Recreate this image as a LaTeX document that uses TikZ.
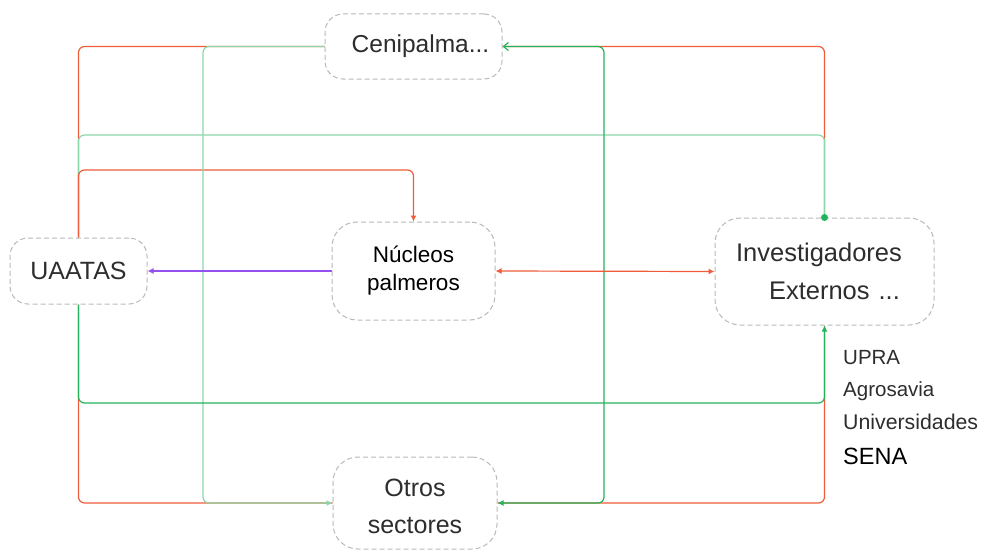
\documentclass[tikz,border=0pt]{standalone}
\usepackage{fontspec}
\setmainfont{Liberation Sans}
\usetikzlibrary{arrows.meta,backgrounds}
\definecolor{redl}{RGB}{240,92,58}
\definecolor{grn}{RGB}{34,180,90}
\definecolor{lgrn}{RGB}{140,215,170}
\definecolor{purp}{RGB}{150,80,240}
\definecolor{bord}{RGB}{185,185,185}
\definecolor{txt}{RGB}{45,45,45}
\begin{document}
\begin{tikzpicture}[x=1pt,y=-1pt,
  box/.style={draw=bord, dash pattern=on 5pt off 3pt, line width=1pt, rounded corners=18pt, fill=white, text=txt, align=center, inner sep=0pt},
  conn/.style={line width=1.2pt, rounded corners=6pt},
  tip/.style={-{Latex[length=6pt,width=6pt]}},
  lbl/.style={anchor=west, inner sep=0pt, text=txt, font=\fontsize{20.5}{24}\selectfont}]
\useasboundingbox (0,0) rectangle (982,551);
\node[box, minimum width=177pt, minimum height=65pt, font=\fontsize{24.5}{28}\selectfont] (C) at (413.5,46.5) {\hspace{14pt}Cenipalma...};
\node[box, minimum width=137pt, minimum height=66pt, font=\fontsize{25}{28}\selectfont] (U) at (78.5,271) {UAATAS};
\node[box, minimum width=163pt, minimum height=98pt, rounded corners=25pt, text=black, font=\fontsize{22.5}{28}\selectfont] (N) at (413.5,271) {Núcleos\\palmeros};
\node[box, minimum width=219pt, minimum height=107pt, rounded corners=25pt, align=right, font=\fontsize{25.5}{38}\selectfont] (I) at (824.5,271.5) {Investigadores\kern11pt\\Externos\kern9pt...\kern13pt};
\node[box, minimum width=164pt, minimum height=92pt, rounded corners=25pt, font=\fontsize{25}{37}\selectfont] (O) at (415,503) {\rule{0pt}{24pt}Otros\\sectores};
\node[lbl] (l1) at (843,358) {UPRA};
\node[lbl] (l2) at (843,391) {Agrosavia};
\node[lbl, font=\fontsize{21.3}{24}\selectfont] (l3) at (843,422) {Universidades};
\node[lbl, text=black, font=\fontsize{23.5}{27}\selectfont] (l4) at (843,456) {SENA};
\begin{scope}[on background layer]
  \draw[conn, redl] (U.north) -- (U.north |- C.west) -- (C.west);
  \draw[conn, redl] (U.south) -- (U.south |- O.west) -- (O.west);
  \draw[conn, redl] (I.north) -- (I.north |- C.east) -- (C.east);
  \draw[conn, redl] (I.south) -- (I.south |- O.east) -- (O.east);
  \draw[conn, lgrn] (I.north) -- (I.north |- 0,135) -- (U.north |- 0,135) -- (U.north);
  \draw[conn, redl, tip] (U.north) -- (U.north |- 0,170) -- (N.north |- 0,170) -- (N.north);
  \draw[conn, lgrn, tip] (C.west) -- (C.west -| 203,0) -- (O.west -| 203,0) -- (O.west);
  \draw[conn, grn, tip] (U.south) -- (U.south |- 0,403) -- (I.south |- 0,403) -- (I.south);
  \draw[conn, grn, {Straight Barb[length=5pt,width=8pt]}-{Latex[length=6pt,width=6pt]}] (C.east) -- (C.east -| 604,0) -- (O.east -| 604,0) -- (O.east);
  \draw[conn, redl, {Latex[length=6pt,width=6pt]}-{Latex[length=6pt,width=6pt]}] (N.east) -- (I.west);
  \draw[conn, purp, tip] (N.west) -- (U.east);
\end{scope}
\fill[grn] (I.north) circle (3.5pt);
\end{tikzpicture}
\end{document}
